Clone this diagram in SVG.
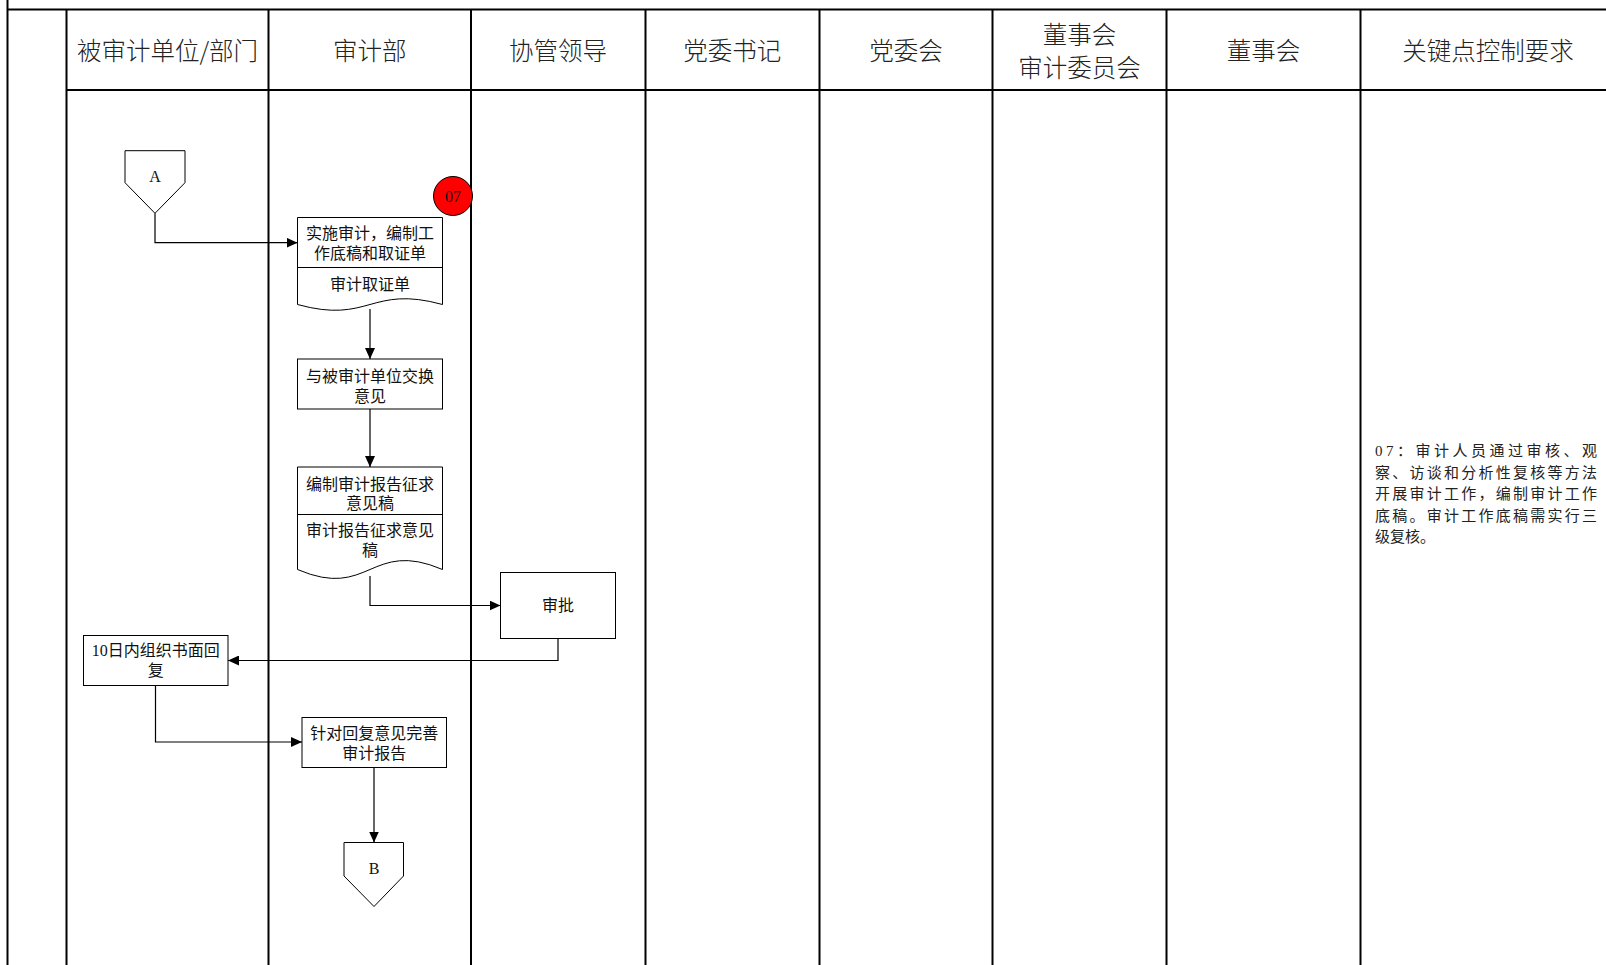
<svg xmlns="http://www.w3.org/2000/svg" width="1606" height="965" viewBox="0 0 1606 965">
<style>
.grid{stroke:#000;stroke-width:2;fill:none}
.box{fill:#fff;stroke:#000;stroke-width:1}
.conn{fill:none;stroke:#000;stroke-width:1.2}
.hdr{font-family:"Noto Sans CJK SC","Liberation Sans",sans-serif;font-size:24.5px;fill:#222;text-anchor:middle;dominant-baseline:central;font-weight:300}
.t{font-family:"Liberation Serif","Noto Sans CJK SC",serif;font-size:16px;fill:#111;text-anchor:middle;dominant-baseline:central}
.k{font-family:"Liberation Serif","Noto Sans CJK SC",serif;font-size:15px;fill:#222;dominant-baseline:central}
</style>
<defs>
<marker id="arr" markerWidth="11" markerHeight="10" refX="11" refY="5" orient="auto" markerUnits="userSpaceOnUse">
<path d="M0,0 L11,5 L0,10 z" fill="#000"/>
</marker>
</defs>
<rect width="1606" height="965" fill="#fff"/>
<g id="table">
<line class="grid" x1="7.5" y1="0" x2="7.5" y2="965"/>
<line class="grid" x1="7" y1="9.5" x2="1606" y2="9.5"/>
<line class="grid" x1="66.5" y1="90" x2="1606" y2="90"/>
<line class="grid" x1="66.5" y1="9" x2="66.5" y2="965"/>
<line class="grid" x1="268.5" y1="9" x2="268.5" y2="965"/>
<line class="grid" x1="471" y1="9" x2="471" y2="965"/>
<line class="grid" x1="645.5" y1="9" x2="645.5" y2="965"/>
<line class="grid" x1="819.5" y1="9" x2="819.5" y2="965"/>
<line class="grid" x1="992.5" y1="9" x2="992.5" y2="965"/>
<line class="grid" x1="1166.5" y1="9" x2="1166.5" y2="965"/>
<line class="grid" x1="1360.5" y1="9" x2="1360.5" y2="965"/>
</g>
<g id="headers">
<text class="hdr" x="167.5" y="49">被审计单位/部门</text>
<text class="hdr" x="369.7" y="49">审计部</text>
<text class="hdr" x="558" y="49">协管领导</text>
<text class="hdr" x="732.3" y="49">党委书记</text>
<text class="hdr" x="906" y="49">党委会</text>
<text class="hdr" x="1079.5" y="33.5">董事会</text>
<text class="hdr" x="1079.5" y="66.5">审计委员会</text>
<text class="hdr" x="1263.5" y="49">董事会</text>
<text class="hdr" x="1488" y="49">关键点控制要求</text>
</g>
<g id="connectors">
<path class="conn" d="M155,213.3 V242.7 H297.5" marker-end="url(#arr)"/>
<path class="conn" d="M370,309 V359" marker-end="url(#arr)"/>
<path class="conn" d="M370,409 V467" marker-end="url(#arr)"/>
<path class="conn" d="M370,576 V605.5 H500.5" marker-end="url(#arr)"/>
<path class="conn" d="M558,638.5 V660.5 H228" marker-end="url(#arr)"/>
<path class="conn" d="M155.5,685.5 V742 H302" marker-end="url(#arr)"/>
<path class="conn" d="M374,767.5 V842.5" marker-end="url(#arr)"/>
</g>
<g id="nodeA">
<polygon class="box" points="125,150.7 185,150.7 185,182.7 155,213.3 125,182.7"/>
<text class="t" x="155" y="176">A</text>
</g>
<g id="node1">
<path class="box" d="M297.5,217.5 H442.5 V304.5 C370,284.5 370,324.5 297.5,304.5 Z"/>
<line class="box" x1="297.5" y1="267.5" x2="442.5" y2="267.5"/>
<text class="t" x="370" y="233.5">实施审计，编制工</text>
<text class="t" x="370" y="253.5">作底稿和取证单</text>
<text class="t" x="370" y="284">审计取证单</text>
</g>
<g id="badge07">
<circle cx="453" cy="196" r="19.5" fill="#ff0000" stroke="#000" stroke-width="1"/>
<text class="t" x="453" y="196" fill="#300">07</text>
</g>
<g id="node2">
<rect class="box" x="297.5" y="359" width="145" height="50"/>
<text class="t" x="370" y="376.5">与被审计单位交换</text>
<text class="t" x="370" y="396.5">意见</text>
</g>
<g id="node3">
<path class="box" d="M297.5,467 H442.5 V569.5 C370,538.5 370,600.5 297.5,569.5 Z"/>
<line class="box" x1="297.5" y1="514.5" x2="442.5" y2="514.5"/>
<text class="t" x="370" y="484">编制审计报告征求</text>
<text class="t" x="370" y="503.5">意见稿</text>
<text class="t" x="370" y="530">审计报告征求意见</text>
<text class="t" x="370" y="550">稿</text>
</g>
<g id="node4">
<rect class="box" x="500.5" y="572.5" width="115" height="66"/>
<text class="t" x="558" y="605.5">审批</text>
</g>
<g id="node5">
<rect class="box" x="83.5" y="635.5" width="144.5" height="50"/>
<text class="t" x="155.7" y="650">10日内组织书面回</text>
<text class="t" x="155.7" y="670.5">复</text>
</g>
<g id="node6">
<rect class="box" x="302" y="717.5" width="144.5" height="50"/>
<text class="t" x="374.2" y="733">针对回复意见完善</text>
<text class="t" x="374.2" y="753">审计报告</text>
</g>
<g id="nodeB">
<polygon class="box" points="344,842.5 403.5,842.5 403.5,876 374,906.5 344,876"/>
<text class="t" x="374" y="868">B</text>
</g>
<g id="keypoint">
<text class="k" x="1375" y="451" textLength="222" lengthAdjust="spacing">07：审计人员通过审核、观</text>
<text class="k" x="1375" y="472.5" textLength="222" lengthAdjust="spacing">察、访谈和分析性复核等方法</text>
<text class="k" x="1375" y="494" textLength="222" lengthAdjust="spacing">开展审计工作，编制审计工作</text>
<text class="k" x="1375" y="515.5" textLength="222" lengthAdjust="spacing">底稿。审计工作底稿需实行三</text>
<text class="k" x="1375" y="537">级复核。</text>
</g>
</svg>
